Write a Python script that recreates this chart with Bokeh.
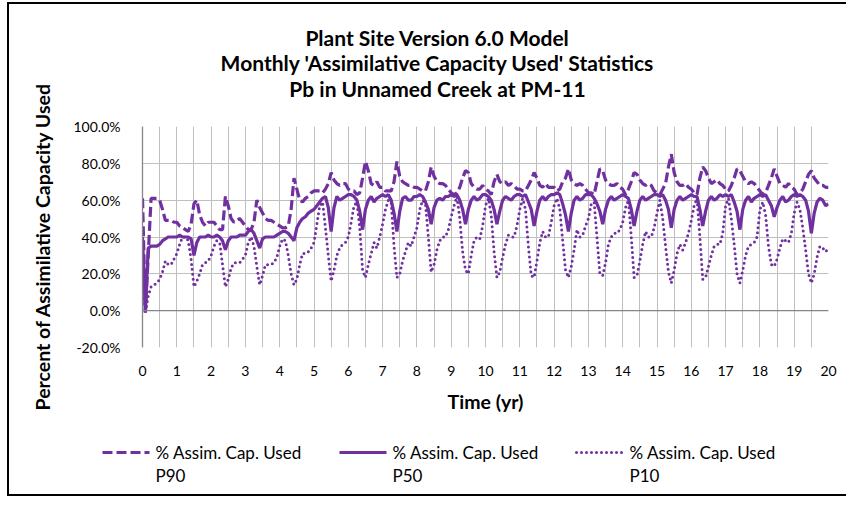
import math
from bokeh.plotting import figure
from bokeh.layouts import column, row
from bokeh.models import (Span, FixedTicker, PrintfTickFormatter, Range1d, ColumnDataSource)
from bokeh.core.properties import value
from bokeh.embed import file_html
from bokeh.resources import INLINE

# ---------------- text ----------------
TITLE_LINES = ["Plant Site Version 6.0 Model",
               "Monthly 'Assimilative Capacity Used' Statistics",
               "Pb in Unnamed Creek at PM-11"]
Y_TITLE = "Percent of Assimilative Capacity Used"
X_TITLE = "Time (yr)"
LEGEND_MAIN = "% Assim. Cap. Used"
LEGEND_SUB = ["P90", "P50", "P10"]
X_TICKS = list(range(0, 21))
Y_TICKS = [-20, 0, 20, 40, 60, 80, 100]

# ---------------- data (percent, one value per month, year rows) ----------------
p90 = [
    61, -1, 30, 61, 61, 61, 60, 55, 49, 49, 49, 48,   # yr 0
    48, 46, 45, 44, 43, 47, 58, 60, 52, 48, 46, 48,   # yr 1
    48, 48, 46, 44, 44, 62, 57, 50, 48, 49, 50, 48,   # yr 2
    46, 44, 44, 48, 60, 56, 53, 50, 49, 49, 48, 47,   # yr 3
    46, 45, 45, 46, 55, 72, 66, 60, 59, 61, 62, 64,   # yr 4
    65, 65, 65, 64, 66, 69, 75, 71, 69, 68, 69, 69,   # yr 5
    66, 65, 65, 63, 64, 72, 81, 76, 69, 68, 70, 67,   # yr 6
    67, 65, 65, 65, 70, 81, 73, 70, 69, 68, 68, 67,   # yr 7
    67, 66, 65, 65, 70, 78, 73, 70, 69, 69, 68, 66,   # yr 8
    64, 63, 64, 67, 72, 76, 75, 69, 67, 66, 66, 68,   # yr 9
    66, 65, 63, 70, 74, 70, 69, 70, 68, 69, 68, 66,   # yr 10
    66, 65, 65, 68, 71, 75, 72, 68, 67, 69, 67, 67,   # yr 11
    67, 65, 66, 70, 72, 77, 71, 69, 68, 69, 68, 66,   # yr 12
    64, 64, 63, 70, 77, 76, 71, 69, 68, 68, 69, 67,   # yr 13
    66, 63, 66, 70, 75, 74, 71, 69, 68, 69, 68, 65,   # yr 14
    64, 63, 66, 69, 78, 85, 75, 70, 68, 68, 69, 67,   # yr 15
    66, 64, 63, 72, 78, 76, 72, 69, 70, 71, 69, 68,   # yr 16
    66, 65, 68, 72, 77, 76, 73, 70, 69, 70, 69, 67,   # yr 17
    65, 63, 64, 68, 72, 77, 73, 69, 68, 67, 69, 67,   # yr 18
    66, 63, 64, 66, 70, 74, 76, 72, 70, 68, 68, 67,   # yr 19
    67,
]
p50 = [
    40, -1, 34, 35, 35, 35, 36, 38, 39, 40, 40, 40,
    40, 41, 40, 40, 40, 39, 30, 37, 40, 40, 40, 41,
    40, 40, 41, 40, 38, 33, 38, 40, 40, 40, 41, 41,
    41, 43, 44, 42, 38, 34, 39, 40, 40, 40, 40, 41,
    42, 43, 43, 42, 40, 38, 45, 48, 50, 51, 53, 54,
    55, 57, 59, 61, 62, 56, 43, 56, 62, 60, 61, 62,
    63, 63, 62, 60, 54, 44, 55, 60, 62, 59, 61, 62,
    63, 62, 63, 60, 53, 43, 54, 61, 62, 60, 60, 62,
    62, 63, 62, 59, 55, 47, 56, 60, 61, 60, 62, 62,
    63, 62, 63, 60, 55, 47, 55, 60, 62, 60, 61, 63,
    63, 62, 60, 55, 47, 54, 60, 62, 61, 60, 62, 63,
    63, 62, 63, 59, 55, 46, 54, 60, 62, 60, 62, 63,
    63, 64, 63, 58, 52, 43, 53, 60, 62, 60, 61, 63,
    63, 63, 61, 58, 54, 47, 55, 60, 62, 60, 61, 62,
    63, 62, 61, 55, 46, 54, 60, 62, 60, 61, 62, 63,
    63, 62, 63, 60, 55, 45, 55, 60, 62, 60, 61, 62,
    63, 62, 62, 55, 46, 54, 60, 62, 60, 61, 63, 62,
    63, 62, 63, 59, 54, 44, 55, 60, 62, 59, 61, 62,
    63, 62, 63, 60, 57, 51, 56, 60, 62, 59, 60, 62,
    63, 62, 63, 62, 60, 54, 42, 53, 59, 61, 60, 57,
    58,
]
p10 = [
    20, -1, 8, 13, 14, 15, 17, 21, 27, 25, 25, 28,
    31, 36, 40, 40, 38, 28, 13, 16, 20, 25, 26, 27,
    30, 35, 38, 37, 25, 13, 17, 23, 26, 26, 26, 28,
    30, 37, 40, 35, 24, 14, 19, 25, 25, 25, 26, 29,
    35, 39, 38, 30, 20, 14, 17, 25, 31, 31, 32, 34,
    37, 47, 57, 59, 45, 30, 16, 22, 30, 34, 36, 37,
    40, 48, 57, 59, 45, 22, 18, 25, 31, 37, 34, 40,
    47, 55, 60, 59, 35, 18, 20, 27, 32, 37, 35, 40,
    45, 55, 60, 58, 40, 21, 25, 33, 38, 40, 40, 44,
    51, 57, 62, 50, 32, 22, 20, 30, 38, 40, 39, 46,
    57, 61, 52, 32, 18, 21, 29, 36, 41, 40, 40, 46,
    55, 61, 55, 35, 19, 18, 27, 37, 43, 40, 40, 48,
    57, 61, 55, 38, 22, 18, 24, 33, 44, 40, 41, 46,
    50, 58, 59, 40, 20, 19, 26, 36, 40, 42, 42, 44,
    48, 56, 60, 40, 18, 19, 27, 36, 43, 40, 40, 45,
    53, 60, 50, 35, 21, 15, 22, 31, 36, 33, 37, 42,
    49, 57, 61, 40, 17, 18, 24, 30, 35, 36, 36, 42,
    57, 61, 50, 36, 20, 15, 22, 30, 35, 36, 37, 40,
    55, 59, 52, 35, 25, 24, 28, 34, 39, 38, 37, 42,
    53, 59, 55, 45, 33, 20, 15, 20, 29, 35, 34, 32,
    34,
]
months = list(range(len(p50)))
years = [m / 12.0 for m in months]

# ---------------- styling ----------------
FONT = "Lato"
PURPLE = "#7030A0"
GRID = "#bfbfbf"
AXIS = "#868686"
STYLES = [dict(line_dash="10 4", line_cap="butt", line_width=3.2),
          dict(line_dash="solid", line_cap="butt", line_width=3.2),
          dict(line_dash="0 5", line_cap="round", line_width=3)]
WL = 60          # left strip (y title)
W = 777          # right column width
H_TOP, H_MAIN, H_BOT = 100, 281, 109


def blank_fig(w, h):
    f = figure(width=w, height=h, output_backend="svg", toolbar_location=None,
               x_range=Range1d(0, w), y_range=Range1d(h, 0),
               x_axis_location=None, y_axis_location=None, min_border=0,
               outline_line_color=None, background_fill_color="white",
               border_fill_color="white")
    f.grid.visible = False
    return f


# ---------------- y title strip ----------------
left = blank_fig(WL, H_TOP + H_MAIN + H_BOT)
left.text(x=[33], y=[242], text=[Y_TITLE], angle=math.pi / 2, text_align="center",
          text_baseline="middle", text_font=value(FONT), text_font_style="bold",
          text_font_size=value("19.5px"), text_color="#000000")

# ---------------- title block ----------------
top = blank_fig(W, H_TOP)
top.text(x=[368, 368, 368], y=[33, 58, 84], text=TITLE_LINES, text_align="center",
         text_baseline="middle", text_font=value(FONT), text_font_style="bold",
         text_font_size=value("21px"), text_color="#000000")

# ---------------- main chart ----------------
src = ColumnDataSource(dict(t=years, p90=p90, p50=p50, p10=p10))
p = figure(width=W, height=H_MAIN, output_backend="svg", toolbar_location=None,
           x_range=Range1d(0, 20), y_range=Range1d(-20, 100),
           min_border_left=73, min_border_right=18, min_border_top=22, min_border_bottom=38,
           background_fill_color="white", border_fill_color="white",
           outline_line_color=None)

p.xaxis.ticker = FixedTicker(ticks=X_TICKS)
p.yaxis.ticker = FixedTicker(ticks=Y_TICKS)
p.yaxis.formatter = PrintfTickFormatter(format="%.1f%%")
p.xgrid.ticker = FixedTicker(ticks=[k * 0.5 for k in range(0, 41)])
p.ygrid.ticker = FixedTicker(ticks=Y_TICKS)
for g in (p.xgrid, p.ygrid):
    g.grid_line_color = GRID
    g.grid_line_width = 1

for ax in (p.xaxis, p.yaxis):
    ax.major_tick_line_color = None
    ax.minor_tick_line_color = None
    ax.major_label_text_font = FONT
    ax.major_label_text_font_size = "14px"
    ax.major_label_text_color = "#000000"
p.xaxis.axis_line_color = None
p.yaxis.axis_line_color = AXIS
p.yaxis.axis_line_width = 1.3
p.xaxis.major_label_standoff = 12
p.yaxis.major_label_standoff = 16

p.add_layout(Span(location=0, dimension="width", line_color=AXIS, line_width=1.3))

for col, st in zip(["p90", "p50", "p10"], STYLES):
    p.line("t", col, source=src, line_color=PURPLE, **st)

# ---------------- x title + legend block ----------------
bot = blank_fig(W, H_BOT)
bot.text(x=[416], y=[16], text=[X_TITLE], text_align="center", text_baseline="middle",
         text_font=value(FONT), text_font_style="bold", text_font_size=value("19.5px"),
         text_color="#000000")
for k, (sub, st) in enumerate(zip(LEGEND_SUB, STYLES)):
    x0 = 33 + 237 * k
    bot.line(x=[x0, x0 + 47], y=[67, 67], line_color=PURPLE, **st)
    bot.text(x=[x0 + 53, x0 + 53], y=[67, 90], text=[LEGEND_MAIN, sub],
             text_align="left", text_baseline="middle", text_font=value(FONT),
             text_font_size=value("17px"), text_color="#000000")

right = column(row(top), p, row(bot), spacing=0)
layout = row(left, right, spacing=0,
             styles={"border-top": "2px solid #000000", "border-left": "2px solid #000000",
                     "border-bottom": "2px solid #000000",
                     "margin-left": "7px", "margin-top": "2px"})

open("out.html", "w").write(file_html(layout, INLINE))
